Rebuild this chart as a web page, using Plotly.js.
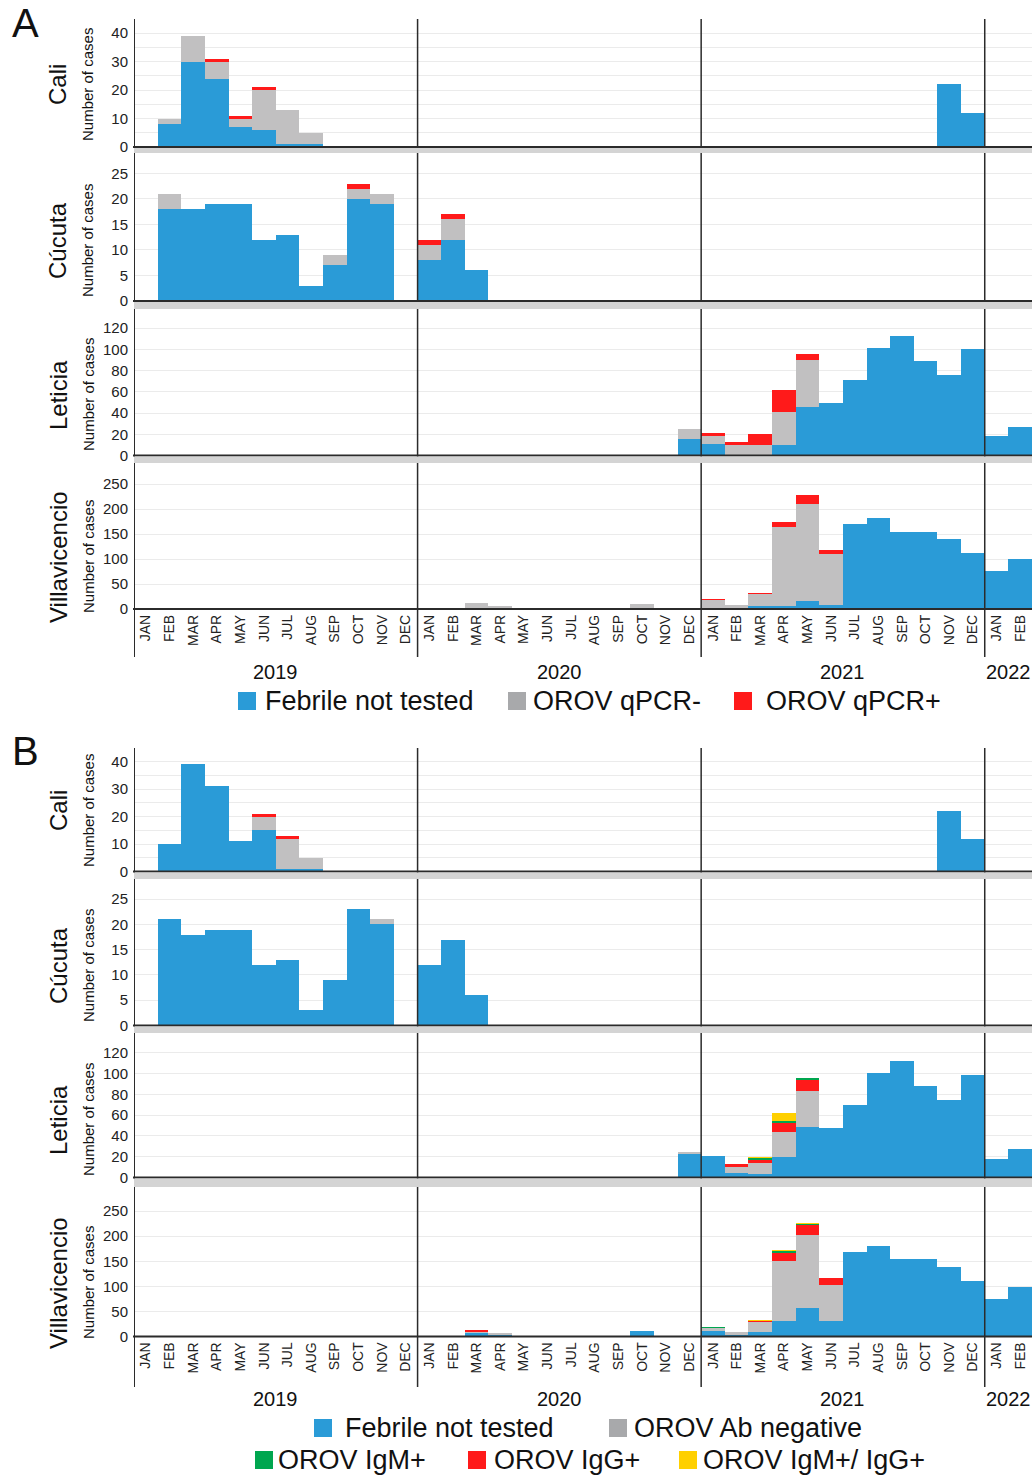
<!DOCTYPE html>
<html><head><meta charset="utf-8">
<script src="https://cdn.plot.ly/plotly-3.0.1.min.js"></script>
<style>html,body{margin:0;padding:0;background:#fff}#chart{width:1032px;height:1475px}</style>
</head><body><div id="chart"></div>
<script>
// ---------- labels ----------
const monthLabels = ['JAN','FEB','MAR','APR','MAY','JUN','JUL','AUG','SEP','OCT','NOV','DEC',
  'JAN','FEB','MAR','APR','MAY','JUN','JUL','AUG','SEP','OCT','NOV','DEC',
  'JAN','FEB','MAR','APR','MAY','JUN','JUL','AUG','SEP','OCT','NOV','DEC',
  'JAN','FEB'];
const years = ['2019','2020','2021','2022'];
const cities = ['Cali','Cúcuta','Leticia','Villavicencio'];
const legendA = ['Febrile not tested','OROV qPCR-','OROV qPCR+'];
const legendB = ['Febrile not tested','OROV Ab negative','OROV IgM+','OROV IgG+','OROV IgM+/ IgG+'];

// ---------- Panel A data (Jan 2019 .. Feb 2022) ----------
const caliA_notTested = [0,8,30,24,7,6,1,1,0,0,0,0, 0,0,0,0,0,0,0,0,0,0,0,0, 0,0,0,0,0,0,0,0,0,0,22,12, 0,0];
const caliA_neg       = [0,2,9,6,3,14,12,4,0,0,0,0, 0,0,0,0,0,0,0,0,0,0,0,0, 0,0,0,0,0,0,0,0,0,0,0,0, 0,0];
const caliA_pos       = [0,0,0,1,1,1,0,0,0,0,0,0, 0,0,0,0,0,0,0,0,0,0,0,0, 0,0,0,0,0,0,0,0,0,0,0,0, 0,0];

const cucutaA_notTested = [0,18,18,19,19,12,13,3,7,20,19,0, 8,12,6,0,0,0,0,0,0,0,0,0, 0,0,0,0,0,0,0,0,0,0,0,0, 0,0];
const cucutaA_neg       = [0,3,0,0,0,0,0,0,2,2,2,0, 3,4,0,0,0,0,0,0,0,0,0,0, 0,0,0,0,0,0,0,0,0,0,0,0, 0,0];
const cucutaA_pos       = [0,0,0,0,0,0,0,0,0,1,0,0, 1,1,0,0,0,0,0,0,0,0,0,0, 0,0,0,0,0,0,0,0,0,0,0,0, 0,0];

const leticiaA_notTested = [0,0,0,0,0,0,0,0,0,0,0,0, 0,0,0,0,0,0,0,0,0,0,0,16, 11,0,0,10,46,49,71,101,113,89,76,100, 18,27];
const leticiaA_neg       = [0,0,0,0,0,0,0,0,0,0,0,0, 0,0,0,0,0,0,0,0,0,0,0,9, 7,10,10,31,44,0,0,0,0,0,0,0, 0,0];
const leticiaA_pos       = [0,0,0,0,0,0,0,0,0,0,0,0, 0,0,0,0,0,0,0,0,0,0,0,0, 3,3,10,21,6,0,0,0,0,0,0,0, 0,0];

const villaA_notTested = [0,0,0,0,0,0,0,0,0,0,0,0, 0,0,1,0,0,0,0,0,0,0,0,0, 0,0,6,7,17,9,170,183,155,155,140,113, 76,101];
const villaA_neg       = [0,0,0,0,0,0,0,0,0,0,0,0, 0,1,11,6,0,0,0,0,0,11,0,0, 19,9,24,158,193,101,0,0,0,0,0,0, 0,0];
const villaA_pos       = [0,0,0,0,0,0,0,0,0,0,0,0, 0,0,0,1,0,0,0,0,0,0,0,0, 1,0,3,10,18,8,0,0,0,0,0,0, 0,0];

// ---------- Panel B data ----------
const caliB_notTested = [0,10,39,31,11,15,1,1,0,0,0,0, 0,0,0,0,0,0,0,0,0,0,0,0, 0,0,0,0,0,0,0,0,0,0,22,12, 0,0];
const caliB_neg       = [0,0,0,0,0,5,11,4,0,0,0,0, 0,0,0,0,0,0,0,0,0,0,0,0, 0,0,0,0,0,0,0,0,0,0,0,0, 0,0];
const caliB_igg       = [0,0,0,0,0,1,1,0,0,0,0,0, 0,0,0,0,0,0,0,0,0,0,0,0, 0,0,0,0,0,0,0,0,0,0,0,0, 0,0];

const cucutaB_notTested = [0,21,18,19,19,12,13,3,9,23,20,0, 12,17,6,0,0,0,0,0,0,0,0,0, 0,0,0,0,0,0,0,0,0,0,0,0, 0,0];
const cucutaB_neg       = [0,0,0,0,0,0,0,0,0,0,1,0, 0,0,0,0,0,0,0,0,0,0,0,0, 0,0,0,0,0,0,0,0,0,0,0,0, 0,0];

const leticiaB_notTested = [0,0,0,0,0,0,0,0,0,0,0,0, 0,0,0,0,0,0,0,0,0,0,0,23, 21,4,3,20,49,48,70,101,112,88,75,99, 18,27];
const leticiaB_neg       = [0,0,0,0,0,0,0,0,0,0,0,0, 0,0,0,0,0,0,0,0,0,0,0,2, 0,6,11,24,34,0,0,0,0,0,0,0, 0,0];
const leticiaB_igg       = [0,0,0,0,0,0,0,0,0,0,0,0, 0,0,0,0,0,0,0,0,0,0,0,0, 0,3,3,8,11,0,0,0,0,0,0,0, 0,0];
const leticiaB_igm       = [0,0,0,0,0,0,0,0,0,0,0,0, 0,0,0,0,0,0,0,0,0,0,0,0, 0,0,2,2,2,0,0,0,0,0,0,0, 0,0];
const leticiaB_both      = [0,0,0,0,0,0,0,0,0,0,0,0, 0,0,0,0,0,0,0,0,0,0,0,0, 0,0,1,8,0,0,0,0,0,0,0,0, 0,0];

const villaB_notTested = [0,0,0,0,0,0,0,0,0,0,0,0, 0,0,6,3,0,0,0,0,0,11,0,0, 10,3,8,30,57,30,168,181,154,154,138,111, 75,99];
const villaB_neg       = [0,0,0,0,0,0,0,0,0,0,0,0, 0,0,3,4,0,0,0,0,0,0,0,0, 6,6,20,120,146,73,0,0,0,0,0,0, 0,0];
const villaB_igg       = [0,0,0,0,0,0,0,0,0,0,0,0, 0,0,3,0,0,0,0,0,0,0,0,0, 0,0,3,17,19,13,0,0,0,0,0,0, 0,0];
const villaB_igm       = [0,0,0,0,0,0,0,0,0,0,0,0, 0,0,0,0,0,0,0,0,0,0,0,0, 3,0,0,3,3,0,0,0,0,0,0,0, 0,0];
const villaB_both      = [0,0,0,0,0,0,0,0,0,0,0,0, 0,0,0,0,0,0,0,0,0,0,0,0, 0,0,1,2,1,0,0,0,0,0,0,0, 0,0];

// ---------- styling ----------
const W = 1032, H = 1475;
const C = {blue:'#2A9BD7', gray:'#C1C0C1', red:'#FF1A1A', green:'#00A64F', yellow:'#FFD000',
           legGray:'#A8A9AB', grid:'#EBEBEB', band:'#D4D4D4', line:'#2B2B2B'};
const FONT = 'Liberation Sans, Arial, Helvetica, sans-serif';
const px = x => x / W;
const py = y => 1 - y / H;
const xIdx = monthLabels.map((_, i) => i);

// subplot pixel boxes [top, bottom]
const boxesA = [[19,147],[153,301],[309,455.5],[463,609]];
const boxesB = [[748,871.5],[879,1025.5],[1033,1177.5],[1187,1336.5]];
const rangesA = [45, 29, 138, 292];
const rangesB = [45, 29, 139, 298];
const dticks = [10, 5, 20, 50];

const traces = [];
function addStack(xa, ya, series) {
  series.forEach(([vals, color]) => {
    traces.push({type:'bar', x:xIdx, y:vals, xaxis:xa, yaxis:ya, width:1,
      marker:{color:color, line:{width:0}}, showlegend:false, hoverinfo:'skip'});
  });
}
addStack('x','y',  [[caliA_notTested,C.blue],[caliA_neg,C.gray],[caliA_pos,C.red]]);
addStack('x','y2', [[cucutaA_notTested,C.blue],[cucutaA_neg,C.gray],[cucutaA_pos,C.red]]);
addStack('x','y3', [[leticiaA_notTested,C.blue],[leticiaA_neg,C.gray],[leticiaA_pos,C.red]]);
addStack('x','y4', [[villaA_notTested,C.blue],[villaA_neg,C.gray],[villaA_pos,C.red]]);
addStack('x2','y5', [[caliB_notTested,C.blue],[caliB_neg,C.gray],[caliB_igg,C.red]]);
addStack('x2','y6', [[cucutaB_notTested,C.blue],[cucutaB_neg,C.gray]]);
addStack('x2','y7', [[leticiaB_notTested,C.blue],[leticiaB_neg,C.gray],[leticiaB_igg,C.red],[leticiaB_igm,C.green],[leticiaB_both,C.yellow]]);
addStack('x2','y8', [[villaB_notTested,C.blue],[villaB_neg,C.gray],[villaB_igg,C.red],[villaB_igm,C.green],[villaB_both,C.yellow]]);

const layout = {
  width:W, height:H, margin:{l:0,r:0,t:0,b:0}, paper_bgcolor:'#fff', plot_bgcolor:'#fff',
  barmode:'stack', bargap:0, showlegend:false, font:{family:FONT, color:'#1a1a1a'},
  shapes:[], annotations:[]
};
function xAxisDef(anchor) {
  return {domain:[px(134), 1], range:[-0.5, 37.5], anchor:anchor, tickmode:'array',
    tickvals:xIdx, ticktext:monthLabels, tickangle:-90, tickfont:{size:14, family:FONT, color:'#222'},
    ticklabelstandoff:2,
    showgrid:false, zeroline:false, showline:false, ticks:'', fixedrange:true, automargin:false};
}
layout.xaxis = xAxisDef('y4');
layout.xaxis2 = xAxisDef('y8');

function yAxisDef(box, top, dt, xa) {
  const d = {domain:[py(box[1]), py(box[0])], range:[0, top], anchor:xa, dtick:dt, tick0:0,
    tickfont:{size:15, family:FONT, color:'#222'}, ticklabelstandoff:5,
    showgrid:true, gridcolor:C.grid, gridwidth:1,
    zeroline:false, showline:false, ticks:'', automargin:false, fixedrange:true};
  if (dt === 10) d.minor = {dtick:5, showgrid:true, gridcolor:C.grid, gridwidth:1};
  return d;
}
for (let i = 0; i < 4; i++) {
  layout['yaxis' + (i === 0 ? '' : i + 1)] = yAxisDef(boxesA[i], rangesA[i], dticks[i], 'x');
  layout['yaxis' + (i + 5)] = yAxisDef(boxesB[i], rangesB[i], dticks[i], 'x2');
}

function panelDecor(boxes, xa, lineBottom, yearY, labelY, letter, letterY) {
  const top = boxes[0][0];
  [-0.5, 11.5, 23.5, 35.5].forEach(xv => {
    layout.shapes.push({type:'line', xref:xa, yref:'paper', x0:xv, x1:xv, y0:py(top), y1:py(lineBottom),
      line:{color:C.line, width:xv < 0 ? 2 : 1.5}, layer:'above'});
  });
  boxes.forEach((b, i) => {
    layout.shapes.push({type:'line', xref:'paper', yref:'paper', x0:px(133), x1:1, y0:py(b[1]), y1:py(b[1]),
      line:{color:C.line, width:2}, layer:'above'});
    if (i < 3) {
      layout.shapes.push({type:'rect', xref:'paper', yref:'paper', x0:px(134), x1:1,
        y0:py(b[1] + 1), y1:py(boxes[i+1][0]), fillcolor:C.band, line:{width:0}, layer:'above'});
    }
    const cy = labelY[i];
    layout.annotations.push({text:cities[i], xref:'paper', yref:'paper', x:px(58), y:py(cy), textangle:-90,
      showarrow:false, font:{size:24, family:FONT, color:'#111'}, xanchor:'center', yanchor:'middle'});
    layout.annotations.push({text:'Number of cases', xref:'paper', yref:'paper', x:px(88), y:py(cy), textangle:-90,
      showarrow:false, font:{size:15, family:FONT, color:'#111'}, xanchor:'center', yanchor:'middle'});
  });
  [[5.5, years[0]],[17.5, years[1]],[29.5, years[2]],[36.5, years[3]]].forEach(([xv, t]) => {
    layout.annotations.push({text:t, xref:xa, yref:'paper', x:xv, y:py(yearY), showarrow:false,
      font:{size:20, family:FONT, color:'#111'}, xanchor:'center', yanchor:'middle'});
  });
  layout.annotations.push({text:letter, xref:'paper', yref:'paper', x:px(25), y:py(letterY), showarrow:false,
    font:{size:40, family:FONT, color:'#111'}, xanchor:'center', yanchor:'middle'});
}
panelDecor(boxesA, 'x', 657, 672, [85, 241, 395, 557], 'A', 23);
panelDecor(boxesB, 'x2', 1387, 1399, [811, 966, 1120, 1283], 'B', 751);

function legendItem(x0, yc, color, label, textX) {
  layout.shapes.push({type:'rect', xref:'paper', yref:'paper', x0:px(x0), x1:px(x0 + 18),
    y0:py(yc + 9), y1:py(yc - 9), fillcolor:color, line:{width:0}});
  layout.annotations.push({text:label, xref:'paper', yref:'paper', x:px(textX), y:py(yc), showarrow:false,
    xanchor:'left', yanchor:'middle', font:{size:27, family:FONT, color:'#111'}});
}
legendItem(238, 701, C.blue, legendA[0], 263);
legendItem(508, 701, C.legGray, legendA[1], 531);
legendItem(734, 701, C.red, legendA[2], 764);
legendItem(314, 1428, C.blue, legendB[0], 343);
legendItem(609, 1428, C.legGray, legendB[1], 632);
legendItem(255, 1460, C.green, legendB[2], 276);
legendItem(468, 1460, C.red, legendB[3], 492);
legendItem(679, 1460, C.yellow, legendB[4], 701);

Plotly.newPlot('chart', traces, layout, {staticPlot:true, displayModeBar:false});
</script></body></html>
